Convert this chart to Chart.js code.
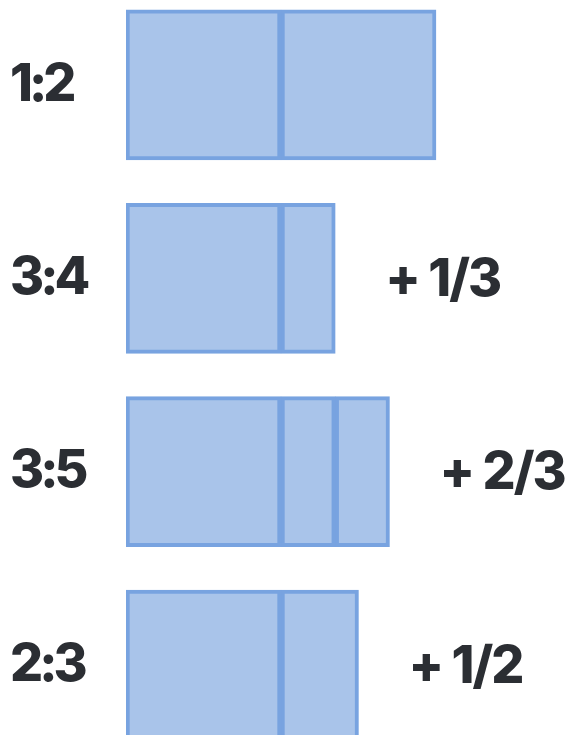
<!DOCTYPE html>
<html>
<head>
<meta charset="utf-8">
<script src="https://cdn.jsdelivr.net/npm/chart.js@4"></script>
<style>
  html, body { margin: 0; padding: 0; background: #ffffff; overflow: hidden; width: 568px; height: 735px; }
  #wrap { position: absolute; left: 0; top: -43px; width: 568px; height: 836px; }
</style>
</head>
<body>
<div id="wrap"><canvas id="c"></canvas></div>
<script>
const categories = ['1:2', '3:4', '3:5', '2:3'];
const baseValues = [1, 1, 1, 1];
const addedFirst = [1, 0.35, 0.35, 0.5];
const addedSecond = [null, null, 0.35, null];
const extraLabels = ['', '+ 1/3', '+ 2/3', '+ 1/2'];

const FILL = '#a9c4ea';
const BORDER = '#78a3e0';
const TEXT = '#2b2e33';
const FONT_FAMILY = 'Inter, "Noto Sans", sans-serif';

const spacingPlugin = {
  id: 'tightText',
  beforeDraw(chart) {
    try { chart.ctx.letterSpacing = '-4px'; } catch (e) {}
  }
};

const extraLabelPlugin = {
  id: 'extraLabels',
  afterDatasetsDraw(chart) {
    const ctx = chart.ctx;
    ctx.save();
    try { ctx.letterSpacing = '-2px'; } catch (e) {}
    ctx.fillStyle = TEXT;
    ctx.font = '800 52px ' + FONT_FAMILY;
    ctx.textAlign = 'left';
    ctx.textBaseline = 'middle';
    categories.forEach((c, i) => {
      if (!extraLabels[i]) return;
      let endX = null, y = null;
      chart.data.datasets.forEach((ds, d) => {
        const v = ds.data[i];
        if (v === null || v === undefined || v === 0) return;
        const el = chart.getDatasetMeta(d).data[i];
        if (endX === null || el.x > endX) { endX = el.x; y = el.y; }
      });
      if (endX !== null) ctx.fillText(extraLabels[i], endX + 50, y + 2);
    });
    ctx.restore();
  }
};

const mk = (data) => ({
  data,
  backgroundColor: FILL,
  borderColor: BORDER,
  borderWidth: 4,
  borderSkipped: false,
  barThickness: 150
});

new Chart(document.getElementById('c'), {
  type: 'bar',
  data: {
    labels: categories,
    datasets: [mk(baseValues), mk(addedFirst), mk(addedSecond)]
  },
  options: {
    indexAxis: 'y',
    responsive: true,
    maintainAspectRatio: false,
    animation: false,
    layout: { padding: { left: 10, right: 0, top: 0, bottom: 0 } },
    plugins: { legend: { display: false }, tooltip: { enabled: false } },
    scales: {
      x: {
        type: 'linear',
        stacked: true,
        min: 0,
        max: 442 / 155,
        display: false
      },
      y: {
        stacked: true,
        grid: { display: false },
        border: { display: false },
        afterFit(scale) { scale.width = 116; },
        ticks: {
          crossAlign: 'far',
          color: TEXT,
          padding: 0,
          font: { family: FONT_FAMILY, size: 52, weight: '800' }
        }
      }
    }
  },
  plugins: [spacingPlugin, extraLabelPlugin]
});
</script>
</body>
</html>
